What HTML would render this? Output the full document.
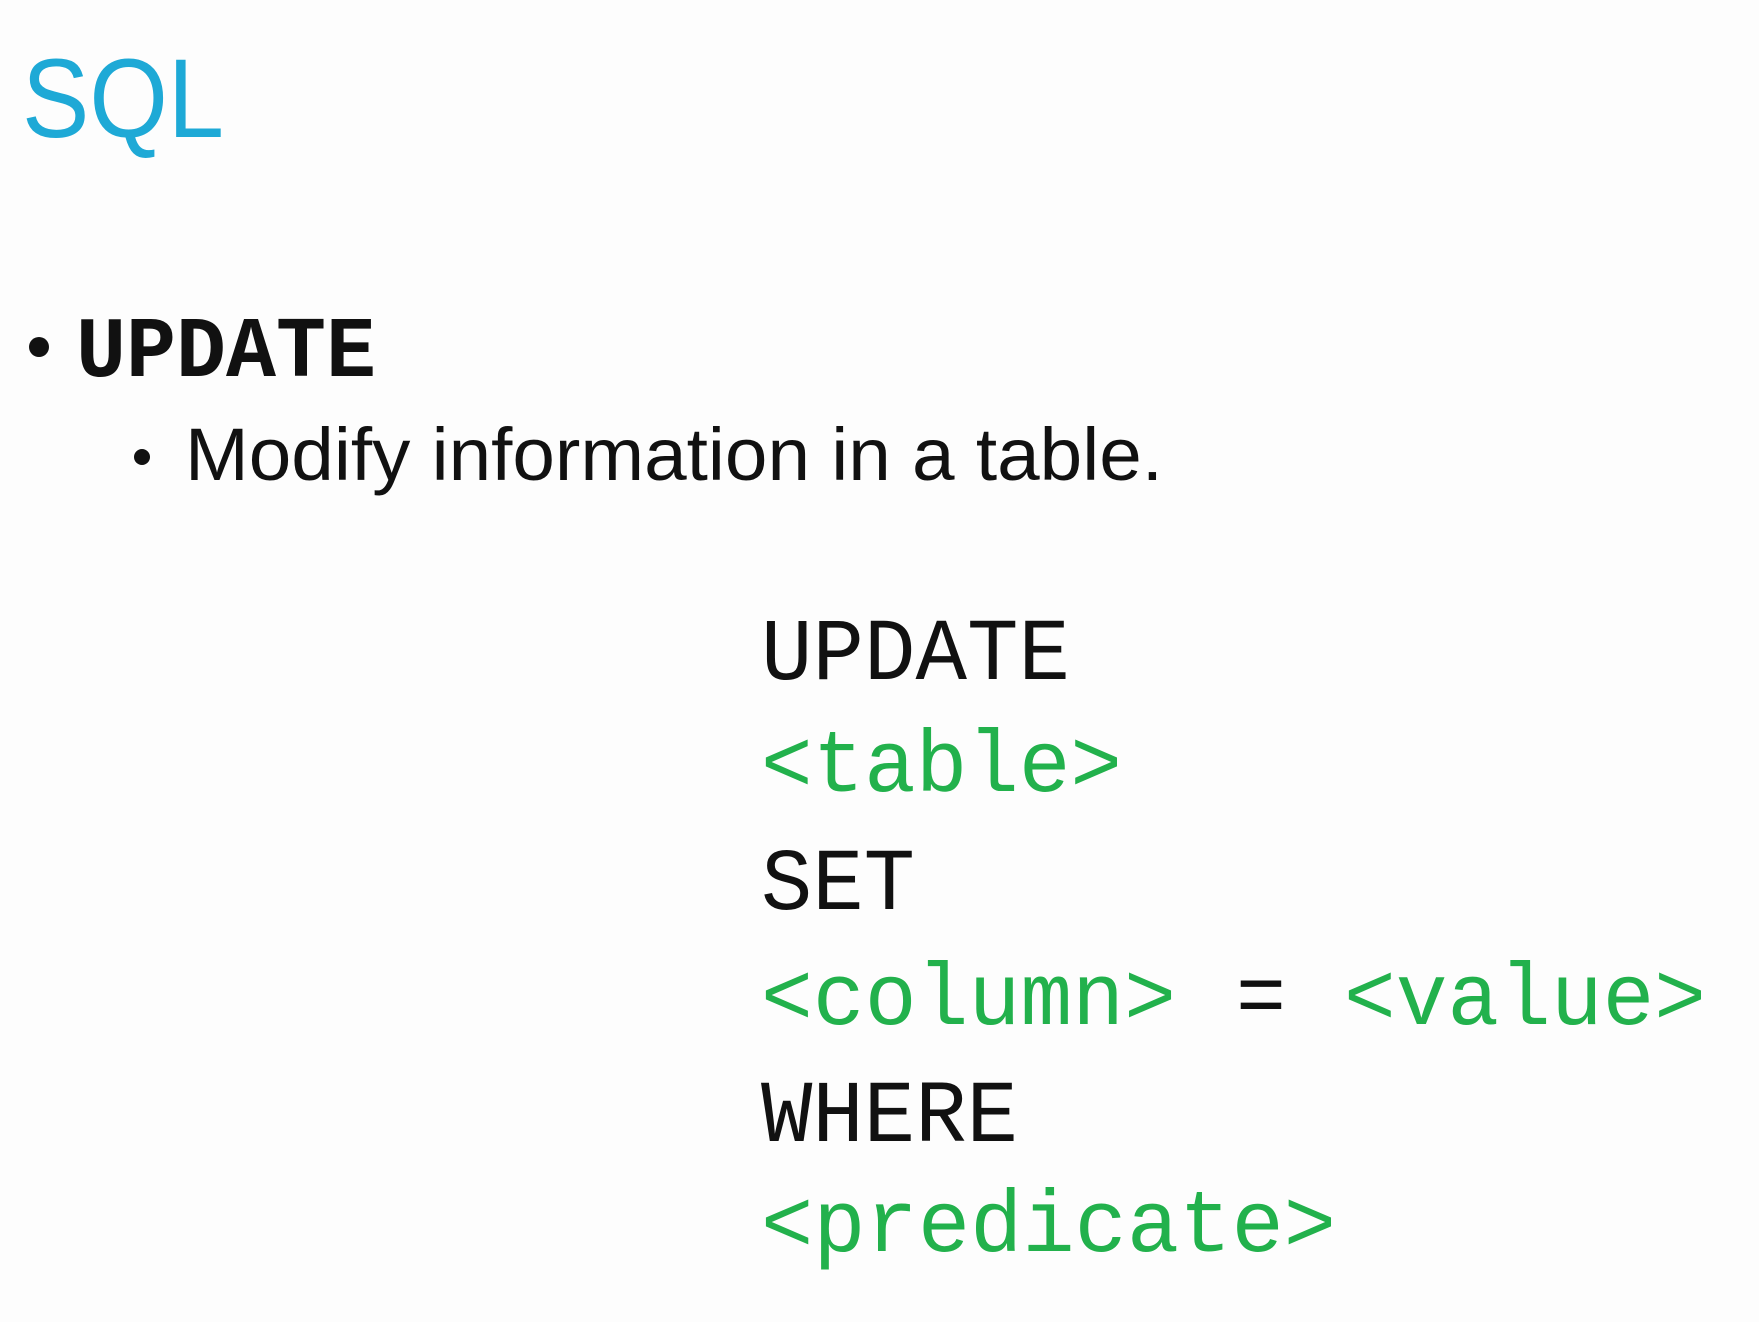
<!DOCTYPE html>
<html><head><meta charset="utf-8"><style>
html,body{margin:0;padding:0;background:#fdfdfd;}
svg{display:block;}
</style></head><body>
<svg width="1759" height="1322" viewBox="0 0 1759 1322" xmlns="http://www.w3.org/2000/svg">
<rect width="1759" height="1322" fill="#fdfdfd"/>
<text x="22" y="137" font-family="Liberation Sans, sans-serif" font-size="112" fill="#1ea9d6" textLength="202" lengthAdjust="spacingAndGlyphs">SQL</text>
<circle cx="39" cy="347" r="10" fill="#111"/>
<text x="76" y="376" font-family="Liberation Mono, monospace" font-weight="bold" font-size="86" fill="#111" textLength="300" lengthAdjust="spacingAndGlyphs">UPDATE</text>
<circle cx="142" cy="457" r="8" fill="#111"/>
<text x="185" y="480" font-family="Liberation Sans, sans-serif" font-size="74" fill="#111" textLength="978" lengthAdjust="spacingAndGlyphs">Modify information in a table.</text>
<g font-family="Liberation Mono, monospace" font-size="88">
<text x="761" y="679" fill="#111" textLength="309" lengthAdjust="spacingAndGlyphs">UPDATE</text>
<text x="761" y="791" fill="#22b14c" textLength="361" lengthAdjust="spacingAndGlyphs">&lt;table&gt;</text>
<text x="761" y="909" fill="#111" textLength="154" lengthAdjust="spacingAndGlyphs">SET</text>
<text x="761" y="1024" fill="#22b14c" textLength="415" lengthAdjust="spacingAndGlyphs">&lt;column&gt;</text>
<text x="1236" y="1024" fill="#111" textLength="50" lengthAdjust="spacingAndGlyphs">=</text>
<text x="1344" y="1024" fill="#22b14c" textLength="362" lengthAdjust="spacingAndGlyphs">&lt;value&gt;</text>
<text x="761" y="1141" fill="#111" textLength="257" lengthAdjust="spacingAndGlyphs">WHERE</text>
<text x="761" y="1251" fill="#22b14c" textLength="575" lengthAdjust="spacingAndGlyphs">&lt;predicate&gt;</text>
</g>
</svg>
</body></html>
